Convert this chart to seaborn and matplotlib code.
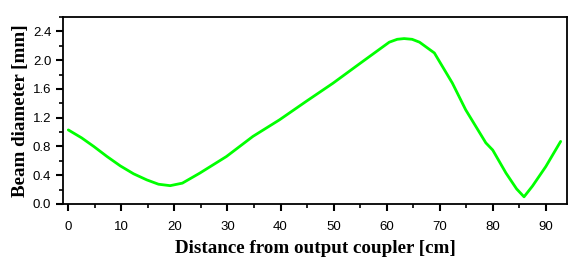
import numpy as np
import pandas as pd
import matplotlib
matplotlib.use("Agg")
import matplotlib.pyplot as plt
from matplotlib.ticker import MultipleLocator, FormatStrFormatter
import seaborn as sns

distance_cm = [0.0, 2.5, 4.8, 7.3, 9.8, 12.3, 14.8, 17.0, 19.2, 21.5, 24.8, 29.8,
               34.8, 39.8, 44.9, 49.9, 54.9, 60.5, 62.0, 63.3, 64.8, 66.2, 69.0,
               72.4, 74.9, 78.7, 80.0, 82.5, 84.5, 85.9, 87.5, 90.0, 92.8]
beam_diameter_mm = [1.03, 0.92, 0.80, 0.66, 0.53, 0.42, 0.335, 0.275, 0.255, 0.29, 0.43, 0.66,
                    0.94, 1.17, 1.43, 1.68, 1.95, 2.25, 2.29, 2.30, 2.29, 2.25, 2.10,
                    1.68, 1.31, 0.85, 0.75, 0.43, 0.21, 0.10, 0.25, 0.52, 0.87]

df = pd.DataFrame({"x": distance_cm, "y": beam_diameter_mm})

sns.set_style("ticks")
plt.rcParams["font.family"] = ["Liberation Sans", "DejaVu Sans"]
plt.rcParams["text.color"] = "black"
plt.rcParams["axes.labelcolor"] = "black"
plt.rcParams["xtick.color"] = "black"
plt.rcParams["ytick.color"] = "black"

fig = plt.figure(figsize=(5.71, 2.59), dpi=100)
ax = fig.add_axes([63/571, 1-204/259, (567-63)/571, (204-17)/259])
sns.lineplot(data=df, x="x", y="y", ax=ax, color="#00ff00", linewidth=2.0)

ax.set_xlim(-1, 94)
ax.set_ylim(0, 2.6)
ax.xaxis.set_major_locator(MultipleLocator(10))
ax.xaxis.set_minor_locator(MultipleLocator(5))
ax.yaxis.set_major_locator(MultipleLocator(0.4))
ax.yaxis.set_minor_locator(MultipleLocator(0.2))
ax.yaxis.set_major_formatter(FormatStrFormatter("%.1f"))
ax.tick_params(which="major", direction="out", length=5, width=1.5, labelsize=9.5,
               colors="black", labelcolor="black")
ax.tick_params(which="minor", direction="out", length=3, width=1.2, colors="black")
ax.tick_params(axis="x", which="major", pad=7)
ax.tick_params(top=False, right=False, which="both")
for s in ax.spines.values():
    s.set_linewidth(1.3)
    s.set_color("black")
    s.set_visible(True)

ax.set_xlabel("Distance from output coupler [cm]", family="Liberation Serif",
              fontweight="bold", fontsize=13.7, labelpad=5, color="black")
ax.set_ylabel("Beam diameter [mm]", family="Liberation Serif",
              fontweight="bold", fontsize=13.7, labelpad=3, color="black")

fig.savefig("out.png", dpi=100)
